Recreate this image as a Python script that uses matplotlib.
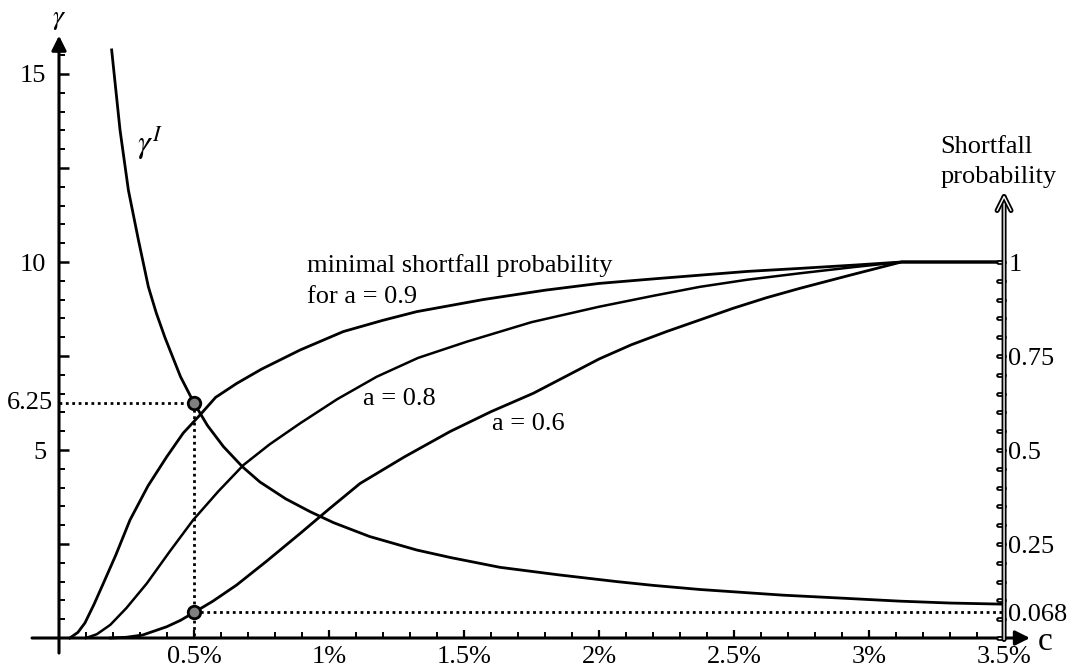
import numpy as np
import matplotlib
matplotlib.use("Agg")
import matplotlib.pyplot as plt
import matplotlib.patheffects as pe

# values (c in %, gamma, shortfall probability)
c_gamma = [0.195, 0.226, 0.257, 0.294, 0.331, 0.36, 0.393, 0.45, 0.5, 0.55,
           0.609, 0.68, 0.744, 0.84, 0.93, 1.016, 1.15, 1.325, 1.45, 1.633,
           1.85, 2.066, 2.2, 2.374, 2.68, 2.9, 3.115, 3.3, 3.5]
gamma_I = [15.64, 13.51, 11.91, 10.59, 9.34, 8.65, 7.98, 6.95, 6.25, 5.65,
           5.09, 4.55, 4.15, 3.7, 3.36, 3.07, 2.7, 2.34, 2.14, 1.88,
           1.68, 1.50, 1.40, 1.29, 1.14, 1.06, 0.98, 0.93, 0.90]

c_a09 = [0.04, 0.07, 0.096, 0.13, 0.164, 0.21, 0.263, 0.33, 0.399, 0.46,
         0.522, 0.58, 0.658, 0.75, 0.893, 1.053, 1.2, 1.325, 1.57, 1.8,
         2.0, 2.2, 2.374, 2.55, 2.744, 2.95, 3.12, 3.5]
p_a09 = [0.0, 0.015, 0.04, 0.09, 0.145, 0.22, 0.314, 0.405, 0.482, 0.545,
         0.593, 0.64, 0.677, 0.715, 0.766, 0.815, 0.845, 0.868, 0.90, 0.925,
         0.943, 0.955, 0.965, 0.975, 0.983, 0.992, 1.0, 1.0]

c_a08 = [0.10, 0.14, 0.19, 0.25, 0.325, 0.41, 0.497, 0.59, 0.683, 0.78,
         0.893, 1.03, 1.177, 1.33, 1.51, 1.75, 2.0, 2.2, 2.374, 2.55,
         2.744, 2.95, 3.12, 3.5]
p_a08 = [0.0, 0.01, 0.035, 0.08, 0.145, 0.23, 0.314, 0.39, 0.46, 0.515,
         0.571, 0.635, 0.695, 0.745, 0.788, 0.84, 0.881, 0.91, 0.934, 0.953,
         0.970, 0.987, 1.0, 1.0]

c_a06 = [0.19, 0.25, 0.31, 0.399, 0.45, 0.5, 0.57, 0.658, 0.77, 0.893,
         1.0, 1.115, 1.28, 1.448, 1.6, 1.757, 1.88, 2.0, 2.12, 2.25,
         2.497, 2.62, 2.744, 2.93, 3.12, 3.5]
p_a06 = [0.0, 0.002, 0.008, 0.03, 0.047, 0.068, 0.098, 0.141, 0.205, 0.278,
         0.343, 0.411, 0.482, 0.549, 0.602, 0.651, 0.697, 0.742, 0.780, 0.815,
         0.877, 0.905, 0.93, 0.965, 1.0, 1.0]

c_star = 0.5
gamma_star = 6.25
p_star = 0.068

x_ticks = [0.5, 1.0, 1.5, 2.0, 2.5, 3.0, 3.5]
x_labels = ["0.5%", "1%", "1.5%", "2%", "2.5%", "3%", "3.5%"]
y_ticks = [2.5, 5, 7.5, 10, 12.5, 15]
y_labels = ["", "5", "", "10", "", "15"]
p_ticks = [0.068, 0.25, 0.5, 0.75, 1.0]
p_labels = ["0.068", "0.25", "0.5", "0.75", "1"]

plt.rcParams["font.family"] = ["Liberation Serif", "DejaVu Serif"]
plt.rcParams["mathtext.fontset"] = "stix"
fs = 19

fig = plt.figure(figsize=(10.74, 6.72), dpi=100)
ax = fig.add_axes([0, 0, 1, 1])
ax.set_xlim(-0.2185, 3.759)
ax.set_ylim(-0.904, 16.968)

ax2 = ax.twinx()
ax2.set_ylim(-0.0904, 1.6968)

# left / bottom axes through the origin, drawn as arrows
for side in ["top", "right", "left", "bottom"]:
    ax.spines[side].set_visible(False)
    ax2.spines[side].set_visible(False)
ax.spines["left"].set_position(("data", 0))
ax.spines["bottom"].set_position(("data", 0))
ax2.spines["right"].set_position(("data", 3.5))

ax.set_xticks(x_ticks, x_labels, fontsize=fs)
ax.set_xticks(np.arange(0.1, 3.55, 0.1), minor=True)
ax.set_yticks(y_ticks, y_labels, fontsize=fs)
ax.set_yticks(np.arange(0.5, 15.6, 0.5), minor=True)
ax.tick_params(axis="x", which="major", direction="in", length=6, width=1.6, pad=6)
ax.tick_params(axis="x", which="minor", direction="in", length=4, width=1.4)
ax.tick_params(axis="y", which="major", direction="in", length=7, width=1.8, pad=9)
ax.tick_params(axis="y", which="minor", direction="in", length=4, width=1.4)

ax2.set_yticks(p_ticks, p_labels, fontsize=fs)
ax2.tick_params(axis="y", length=0, pad=3)

ax.annotate("", xy=(3.596, 0), xytext=(-0.1, 0),
            arrowprops=dict(arrowstyle="-|>", color="k", lw=2.2,
                            mutation_scale=22, shrinkA=0, shrinkB=0))
ax.annotate("", xy=(0, 16.02), xytext=(0, -0.4),
            arrowprops=dict(arrowstyle="-|>", color="k", lw=2.2,
                            mutation_scale=22, shrinkA=0, shrinkB=0))

# hollow right axis for the shortfall probability
hollow = [pe.Stroke(linewidth=3.4, foreground="k", capstyle="round"), pe.Normal()]
ax2.plot(np.full(21, 3.5), np.linspace(0, 1, 21), ls="none", marker=0,
         ms=4.5, mew=0.9, color="white", path_effects=hollow, clip_on=False,
         zorder=4)
arr = ax2.annotate("", xy=(3.5, 1.178), xytext=(3.5, -0.004),
                   arrowprops=dict(arrowstyle="->,head_length=0.5,head_width=0.25",
                                   color="white", lw=1.0, mutation_scale=20,
                                   shrinkA=0, shrinkB=0), zorder=5)
arr.arrow_patch.set_path_effects([pe.Stroke(linewidth=3.6, foreground="k"),
                                  pe.Normal()])

# dotted guides
dots = dict(color="k", lw=2.0, ls=(0, (1, 1.3)))
ax.plot([0, c_star], [gamma_star, gamma_star], **dots)
ax.plot([c_star, c_star], [gamma_star, 0], **dots)
ax2.plot([c_star, 3.5], [p_star, p_star], **dots)

# curves
ax.plot(c_gamma, gamma_I, color="k", lw=2.0)
ax2.plot(c_a09, p_a09, color="k", lw=2.0)
ax2.plot(c_a08, p_a08, color="k", lw=1.8)
ax2.plot(c_a06, p_a06, color="k", lw=2.0)

ax.plot(c_star, gamma_star, "o", ms=9, mfc="#808080", mec="k", mew=2, zorder=6)
ax2.plot(c_star, p_star, "o", ms=9, mfc="#808080", mec="k", mew=2, zorder=6)

# labels
ax.text(0.0, 16.45, r"$\gamma$", ha="center", va="center", fontsize=20)
ax.text(0.289, 13.16, r"$\gamma^{I}$", ha="left", va="center", fontsize=23)
ax.text(-0.022, gamma_star, "6.25", ha="right", va="center", fontsize=fs)
ax.text(0.919, 9.73, "minimal shortfall probability", ha="left",
        va="baseline", fontsize=fs)
ax.text(0.919, 8.91, "for a = 0.9", ha="left", va="baseline", fontsize=fs)
ax.text(1.126, 6.2, "a = 0.8", ha="left", va="baseline", fontsize=fs)
ax.text(1.604, 5.53, "a = 0.6", ha="left", va="baseline", fontsize=fs)
ax.text(3.263, 12.9, "Shortfall", ha="left", va="baseline", fontsize=fs)
ax.text(3.263, 12.1, "probability", ha="left", va="baseline", fontsize=fs)
ax.text(3.652, -0.1, "c", ha="center", va="center", fontsize=24)

fig.savefig("out.png", dpi=100)
